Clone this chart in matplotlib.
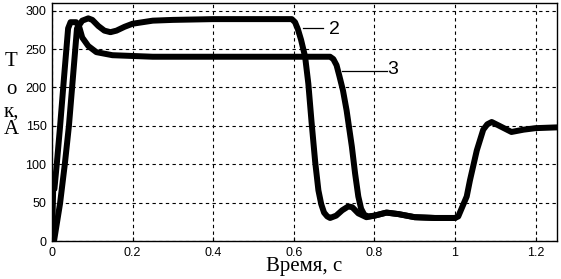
import matplotlib
matplotlib.use('Agg')
import matplotlib.pyplot as plt

# curve 2 (peak ~290, drops at 0.6 s)
t2 = [0, 0.005, 0.02, 0.032, 0.042, 0.062, 0.075, 0.09, 0.1, 0.115, 0.13, 0.145,
      0.16, 0.18, 0.2, 0.25, 0.3, 0.4, 0.5, 0.595, 0.603, 0.61, 0.618, 0.628, 0.636,
      0.644, 0.653, 0.661, 0.668, 0.675, 0.683, 0.69, 0.705, 0.72, 0.735, 0.745, 0.76, 0.78,
      0.8, 0.83, 0.86, 0.9, 0.95, 1.0, 1.008, 1.029, 1.037, 1.054, 1.07, 1.08, 1.091,
      1.11, 1.14, 1.17, 1.2, 1.253]
i2 = [0, 0, 49, 101, 150, 277, 287, 290, 288, 280, 274, 272,
      274, 279, 283, 287, 288, 289, 289, 289, 285, 276, 262, 240, 205,
      155, 103, 66, 48, 37, 32, 30, 33, 40, 45, 44, 36, 31,
      33, 37, 35, 31, 30, 30, 32, 58, 79, 118, 145, 152, 155,
      150, 142, 145, 147, 148]

# curve 3 (peak ~285, plateau 240, drops at 0.7 s)
t3 = [0, 0.003, 0.006, 0.012, 0.02, 0.03, 0.04, 0.046, 0.06, 0.068, 0.075, 0.09,
      0.11, 0.15, 0.25, 0.4, 0.6, 0.69, 0.698, 0.706, 0.713, 0.722, 0.731, 0.744,
      0.752, 0.76, 0.767, 0.775, 0.785, 0.8, 0.83, 0.86, 0.9, 0.95, 1.0]
i3 = [0, 70, 68, 101, 149, 214, 277, 285, 285, 278, 265, 254,
      246, 242, 240, 240, 240, 240, 237, 229, 215, 196, 170, 123,
      88, 58, 42, 34, 32, 33, 37, 35, 31, 30, 30]

xticks = [0, 0.2, 0.4, 0.6, 0.8, 1.0, 1.2]
xlabels = ['0', '0.2', '0.4', '0.6', '0.8', '1', '1.2']
yticks = [0, 50, 100, 150, 200, 250, 300]

fig = plt.figure(figsize=(5.61, 2.79), dpi=100)
ax = fig.add_axes([52/561, 38/279, 505/561, 238/279])

ax.plot(t2, i2, color='black', lw=4.3, solid_joinstyle='round', solid_capstyle='round')
ax.plot(t3, i3, color='black', lw=4.3, solid_joinstyle='round', solid_capstyle='round')

# leader lines and curve numbers
ax.plot([0.623, 0.672], [277, 277], color='black', lw=0.9)
ax.text(0.70, 276, '2', fontsize=14, family='Liberation Sans', va='center', ha='center')
ax.plot([0.72, 0.83], [221, 221], color='black', lw=0.9)
ax.text(0.846, 224, '3', fontsize=14, family='Liberation Sans', va='center', ha='center')

ax.set_xlim(0, 1.253)
ax.set_ylim(0, 310)
ax.set_xticks(xticks)
ax.set_xticklabels(xlabels)
ax.set_yticks(yticks)
ax.tick_params(direction='in', length=3, width=0.8, labelsize=9, pad=4)
for lab in ax.get_xticklabels() + ax.get_yticklabels():
    lab.set_family('Liberation Sans')
ax.grid(True, color='black', linestyle=(0, (3, 3)), linewidth=0.8)
for s in ax.spines.values():
    s.set_linewidth(1.0)

ax.set_xlabel('Время, с', fontsize=15, family='Liberation Serif', labelpad=-1)
for ch, yy in zip(['Т', 'о', 'к,', 'А'], [61, 89, 112, 130]):
    fig.text(11/561, 1 - yy/279, ch, fontsize=15, family='Liberation Serif',
             ha='center', va='center')

plt.savefig('out.png', dpi=100)
